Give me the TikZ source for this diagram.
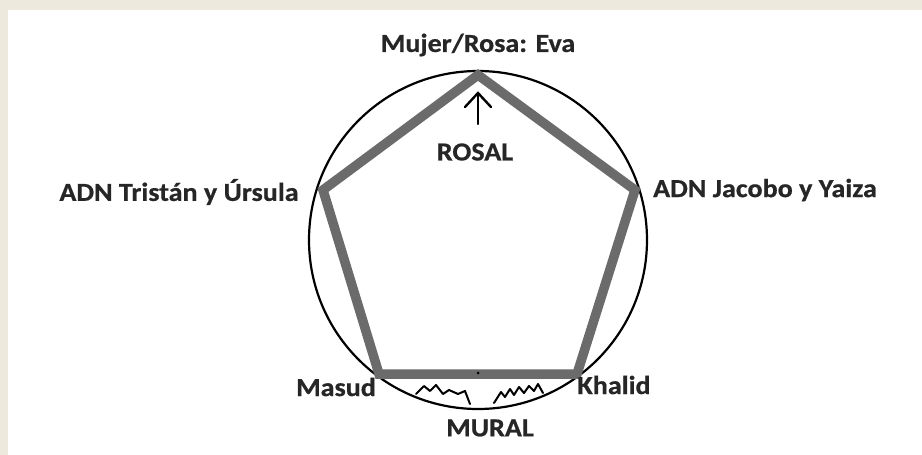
\documentclass[tikz,border=0pt]{standalone}
\usepackage{fontspec}
\setmainfont{Carlito}[BoldFeatures={FakeStretch=1.08,FakeBold=0.6}]
\definecolor{beige}{HTML}{EDE9DC}
\definecolor{penta}{HTML}{6B6B6B}
\definecolor{txt}{HTML}{262626}
\begin{document}
\begin{tikzpicture}[x=1pt,y=-1pt,
  lbl/.style={font=\fontsize{26}{30}\selectfont\bfseries, text=txt, inner sep=0pt, anchor=center},
  pent/.style={draw=penta, line width=9.5pt, line join=miter},
  ring/.style={draw=black, line width=2.2pt},
  arr/.style={draw=black, line width=2.4pt, line cap=round, line join=miter},
  squig/.style={draw=black, line width=2pt, line join=round, line cap=round}]
\fill[beige] (0,0) rectangle (922,455);
\fill[white] (8,10) rectangle (922,455);
\useasboundingbox (0,0) rectangle (922,455);
% circle
\node[ring, circle, minimum size=338pt, inner sep=0pt] (c) at (478,240) {};
% pentagon vertices
\coordinate (t) at (478,75);
\coordinate (l) at (323,190);
\coordinate (r) at (635,190);
\coordinate (bl) at (379,374);
\coordinate (br) at (577,374);
\draw[pent] (t) -- (r) -- (br) -- (bl) -- (l) -- cycle;
\fill[black] (478,373) circle (1.5pt);
% labels
\node[lbl] (eva) at (478,45) {Mujer/Rosa: Eva};
\node[lbl] (rosal) at (475,152) {ROSAL};
\node[lbl] (tu) at (179,192) {ADN Tristán y Úrsula};
\node[lbl] (jy) at (765,190) {ADN Jacobo y Yaiza};
\node[lbl] (masud) at (336,387) {Masud};
\node[lbl] (khalid) at (614,385) {Khalid};
\node[lbl] (mural) at (490,428) {MURAL};
% arrow
\coordinate (ah) at (478,93);
\coordinate (as) at (478,124);
\coordinate (wl) at (465,107);
\coordinate (wr) at (491,107);
\draw[arr] (as) -- (ah);
\draw[arr] (wl) -- (ah) -- (wr);
% squiggles
\draw[squig] (416,394) -- (424,386) -- (430,391) -- (436,385) -- (443,394) -- (449,390) -- (458,394) -- (465,391) -- (470,404);
\draw[squig] (494,403) -- (501,392) -- (505,397) -- (510,389) -- (514,395) -- (519,387) -- (524,393) -- (529,386) -- (534,391) -- (538,384) -- (543,393);
\end{tikzpicture}
\end{document}
